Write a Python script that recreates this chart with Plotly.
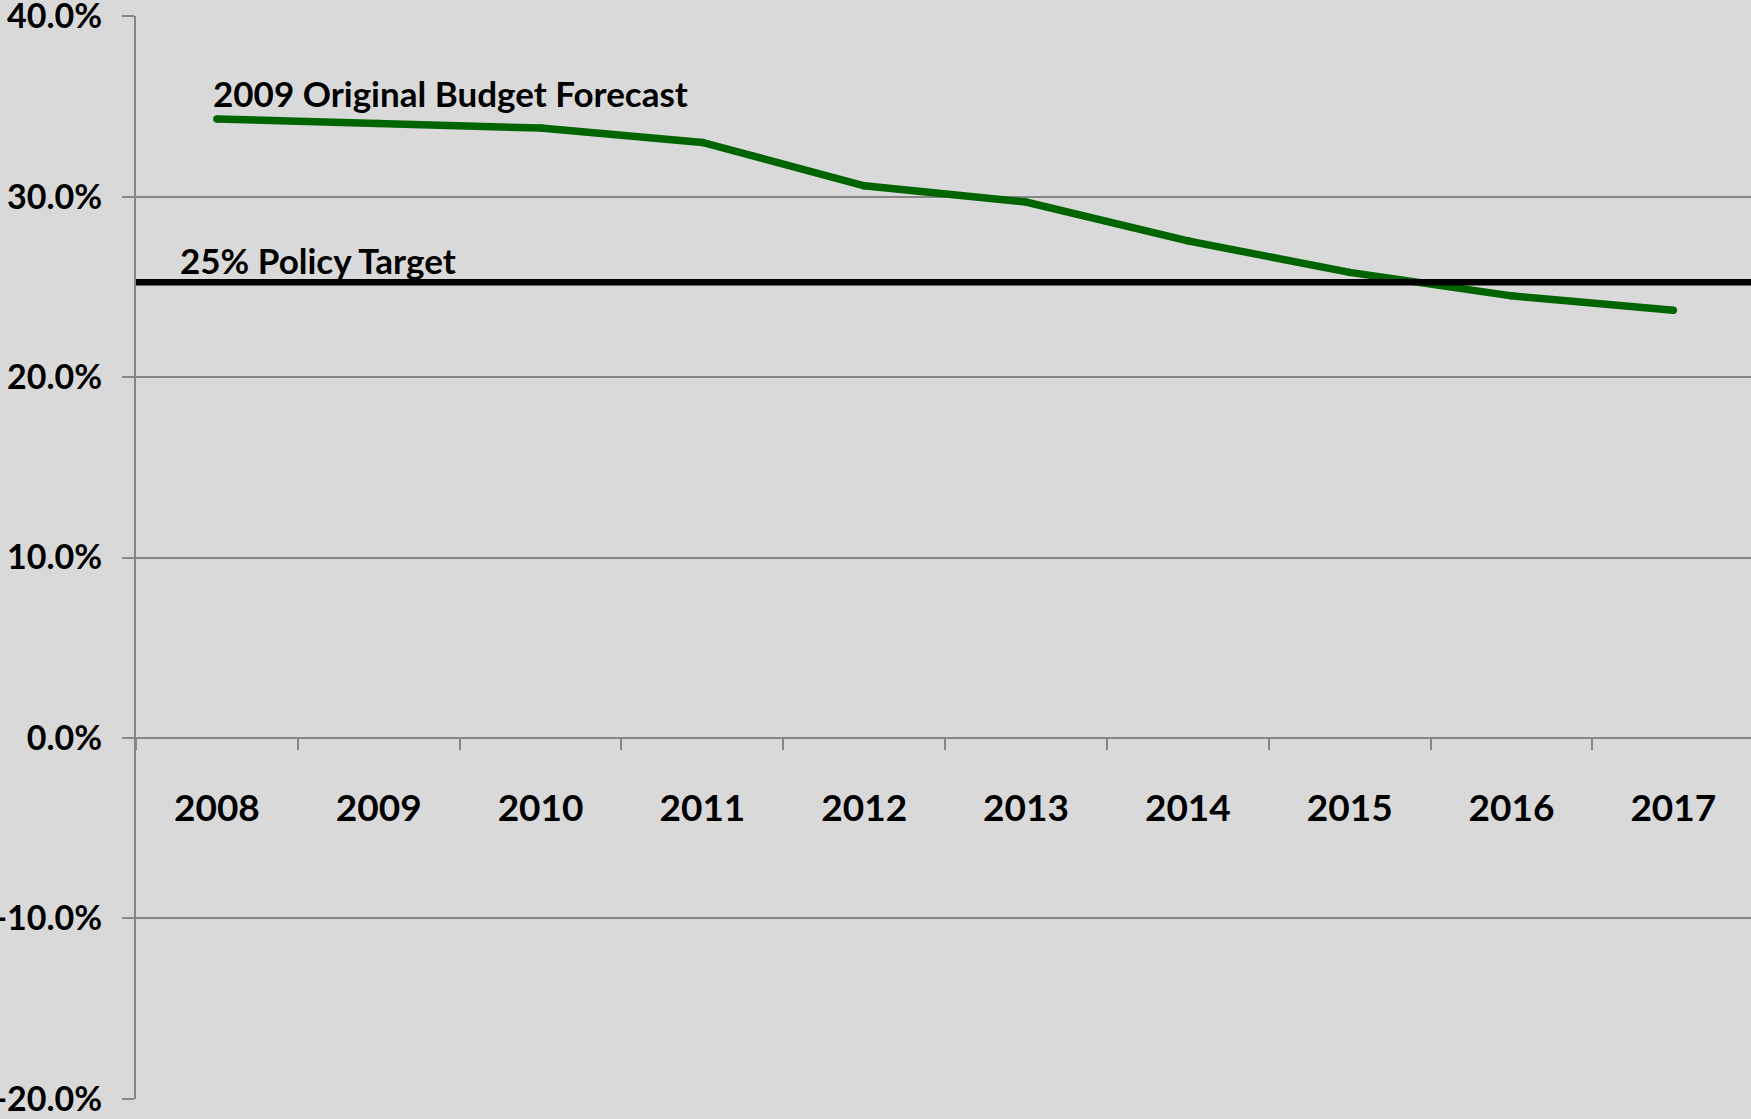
import plotly.graph_objects as go

# Data
years = ["2008", "2009", "2010", "2011", "2012", "2013", "2014", "2015", "2016", "2017"]
forecast = [34.3, 34.05, 33.8, 33.0, 30.6, 29.7, 27.55, 25.8, 24.5, 23.7]
policy_target = 25.25
y_ticks = [-20, -10, 0, 10, 20, 30, 40]
y_tick_labels = ["-20.0%", "-10.0%", "0.0%", "10.0%", "20.0%", "30.0%", "40.0%"]
series_label = "2009 Original Budget Forecast"
target_label = "25% Policy Target"

W, H = 1751, 1119
ML, MR, MT, MB = 136, 0, 16, 20
YMIN, YMAX = -20, 40

BG = "#d9d9d9"
GRID = "#868686"
FONT = "Lato"

fig = go.Figure()

fig.add_trace(go.Scatter(
    x=years, y=forecast, mode="lines+markers",
    line=dict(color="#006400", width=7.5),
    marker=dict(color="#006400", size=7.5, line=dict(width=0)),
    hoverinfo="skip", showlegend=False,
))

fig.add_shape(type="line", xref="paper", x0=0, x1=1, yref="y",
              y0=policy_target, y1=policy_target,
              line=dict(color="black", width=6.5), layer="above")

fig.add_annotation(text=series_label, xref="x", x=0, xanchor="left", xshift=-6,
                   yref="y", y=35.75, yanchor="middle", showarrow=False,
                   font=dict(family=FONT, size=35, weight="bold", color="black"))
fig.add_annotation(text=target_label, xref="paper", x=42 / (W - ML - MR), xanchor="left",
                   yref="y", y=26.5, yanchor="middle", showarrow=False,
                   font=dict(family=FONT, size=35, weight="bold", color="black"))

fig.update_layout(
    width=W, height=H,
    margin=dict(l=ML, r=MR, t=MT, b=MB, pad=0),
    paper_bgcolor=BG, plot_bgcolor=BG,
    showlegend=False,
    xaxis=dict(
        type="category", range=[-0.5, 9.48],
        anchor="free", position=(0 - YMIN) / (YMAX - YMIN),
        showline=True, linecolor=GRID, linewidth=2,
        ticks="outside", tickson="boundaries", ticklen=11, tickwidth=2, tickcolor=GRID,
        showgrid=False, zeroline=False,
        ticklabelstandoff=38,
        tickfont=dict(family=FONT, size=37, weight="bold", color="black"),
        automargin=False,
    ),
    yaxis=dict(
        range=[YMIN - 0.01, YMAX + 0.01], tickmode="array",
        tickvals=y_ticks, ticktext=y_tick_labels,
        showline=True, linecolor=GRID, linewidth=2,
        ticks="outside", ticklen=12, tickwidth=2, tickcolor=GRID,
        showgrid=True, gridcolor=GRID, gridwidth=1.7,
        zeroline=False,
        ticklabelstandoff=13,
        ticklabeloverflow="allow",
        tickfont=dict(family=FONT, size=34, weight="bold", color="black"),
        automargin=False,
    ),
)

fig.write_html("out.html", config={"displayModeBar": False},
               post_script="document.body.style.margin='0';")
